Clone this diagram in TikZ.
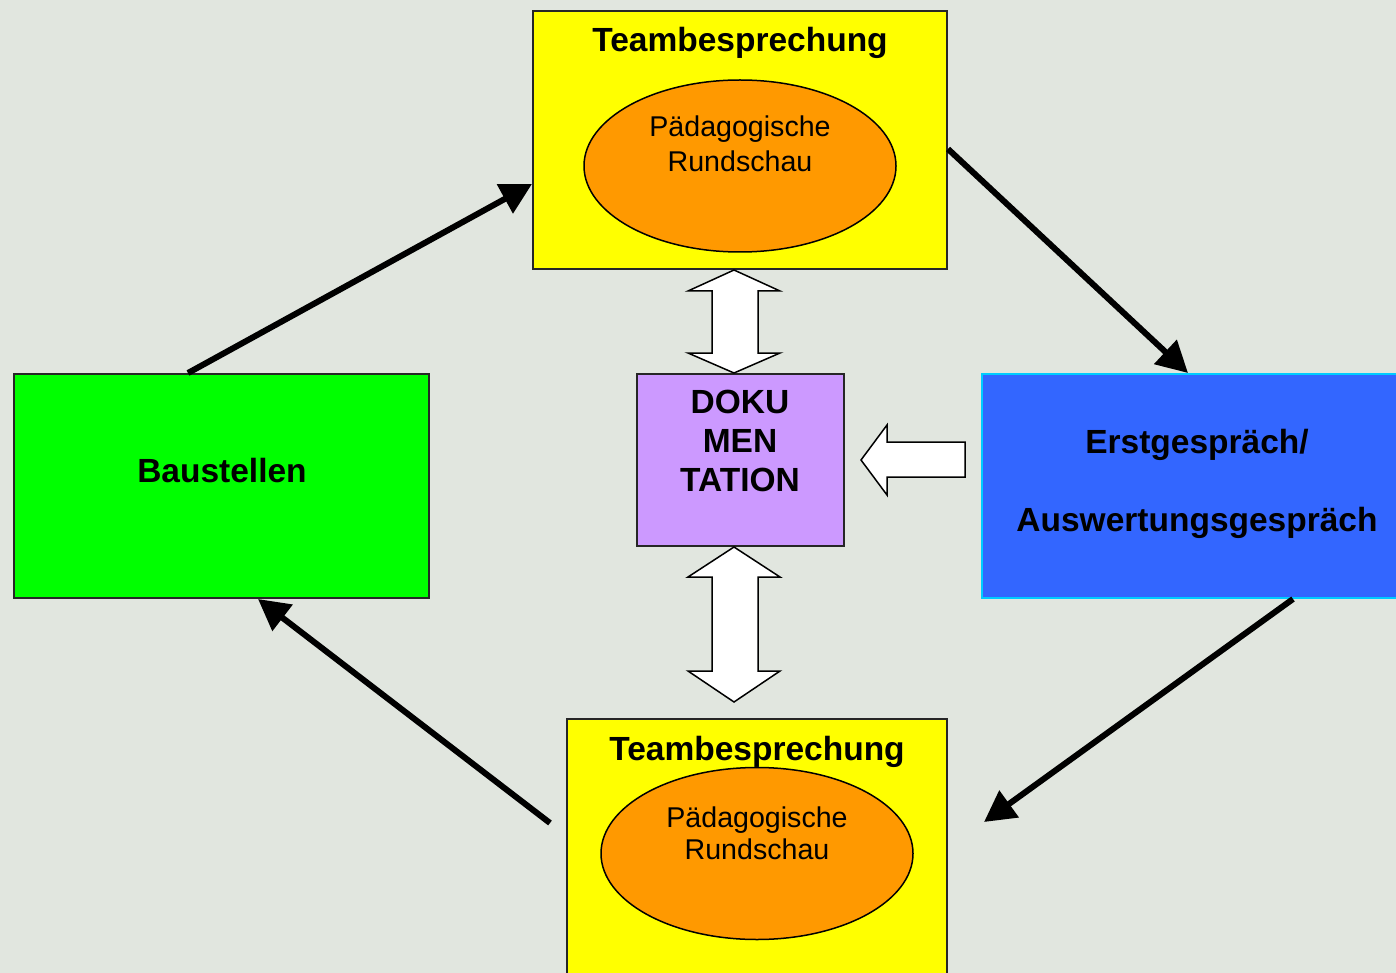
\documentclass[tikz,border=0pt]{standalone}
\usepackage{fontspec}
\setmainfont{Liberation Sans}
\usetikzlibrary{arrows.meta,shapes.geometric}
\definecolor{bgc}{HTML}{E1E6DF}
\definecolor{yel}{HTML}{FFFF00}
\definecolor{ora}{HTML}{FF9900}
\definecolor{grn}{HTML}{00FF00}
\definecolor{pur}{HTML}{CC99FF}
\definecolor{blu}{HTML}{3366FF}
\definecolor{cya}{HTML}{00CCFF}
\newcommand\bigbold{\fontsize{33.5}{40}\selectfont\bfseries}
\newcommand\midreg{\fontsize{28.6}{34}\selectfont}
\tikzset{
  boxnode/.style={draw=black!85, line width=1.5pt, inner sep=0pt, outer sep=0pt},
  ellnode/.style={ellipse, draw=black, line width=1.5pt, fill=ora, inner sep=0pt, minimum width=312pt, minimum height=172pt},
  bigtxt/.style={anchor=base, inner sep=0pt, font=\bigbold},
  midtxt/.style={anchor=base, inner sep=0pt, font=\midreg},
  flow/.style={line width=6pt, -{Triangle[length=31pt,width=32pt]}},
  blockarrow/.style={draw=black, line width=1.5pt, fill=white, line join=miter}
}
\begin{document}
\begin{tikzpicture}[x=1pt,y=-1pt]
\fill[bgc] (0,0) rectangle (1396,973);
\useasboundingbox (0,0) rectangle (1396,973);
\clip (0,0) rectangle (1396,973);

% boxes
\node[boxnode, fill=yel, minimum width=414pt, minimum height=258pt] (tb) at (740,140) {};
\node[boxnode, fill=yel, minimum width=380pt, minimum height=290pt] (bb) at (757,864) {};
\node[boxnode, fill=pur, minimum width=207pt, minimum height=172pt] (doc) at (740.5,460) {};
\node[boxnode, draw=cya, fill=blu, minimum width=420pt, minimum height=224pt] (erst) at (1192,486) {};
\node[boxnode, fill=grn, minimum width=415pt, minimum height=224pt] (bau) at (221.5,486) {};

% ellipses
\node[ellnode] (te) at (740,166) {};
\node[ellnode] (be) at (757,853.5) {};

% texts
\node[bigtxt] (tbt) at (740,52) {Teambesprechung};
\node[midtxt] (te1) at (740,137) {Pädagogische};
\node[midtxt] (te2) at (740,172) {Rundschau};
\node[bigtxt] (bbt) at (757,760) {Teambesprechung};
\node[midtxt] (be1) at (757,827) {Pädagogische};
\node[midtxt] (be2) at (757,859) {Rundschau};
\node[bigtxt] (d1) at (740,413) {DOKU};
\node[bigtxt] (d2) at (740,452) {MEN};
\node[bigtxt] (d3) at (740,491) {TATION};
\node[bigtxt] (e1) at (1197,453) {Erstgespräch/};
\node[bigtxt] (e2) at (1197,531) {Auswertungsgespräch};
\node[bigtxt] (bt) at (222,482) {Baustellen};

% block arrows
\draw[blockarrow] (734,270) -- (688,291) -- (712,291) -- (712,353) -- (688,353) -- (734,373)
  -- (780,353) -- (758,353) -- (758,291) -- (780,291) -- cycle;
\draw[blockarrow] (734,547) -- (688,577) -- (712,577) -- (712,671) -- (688,671) -- (734,702)
  -- (780,671) -- (758,671) -- (758,577) -- (780,577) -- cycle;
\draw[blockarrow] (861,460) -- (887,425) -- (887,442) -- (965,442) -- (965,477) -- (887,477)
  -- (887,495) -- cycle;

% flow arrows
\coordinate (a1s) at (188,373);
\coordinate (a1e) at (532,184);
\coordinate (a2s) at (948,149);
\coordinate (a2e) at (1188,373);
\coordinate (a3s) at (1293,599);
\coordinate (a3e) at (984,822);
\coordinate (a4s) at (550,823);
\coordinate (a4e) at (258,599);
\draw[flow] (a1s) -- (a1e);
\draw[flow] (a2s) -- (a2e);
\draw[flow] (a3s) -- (a3e);
\draw[flow] (a4s) -- (a4e);
\end{tikzpicture}
\end{document}
